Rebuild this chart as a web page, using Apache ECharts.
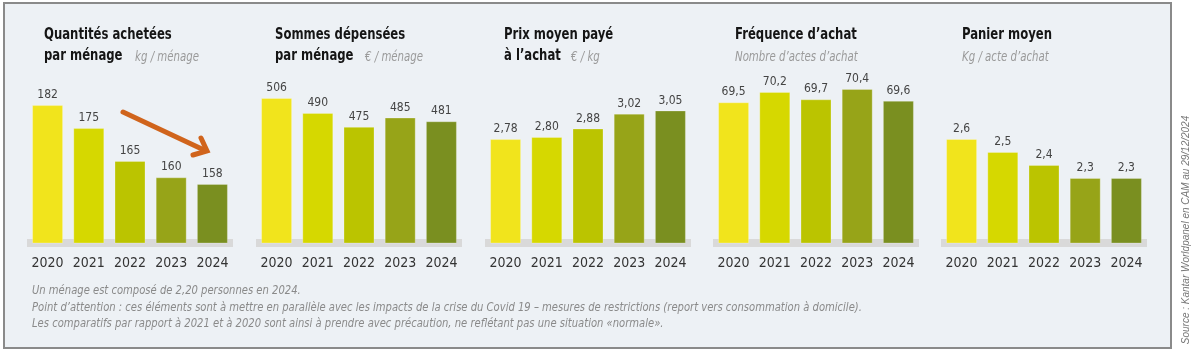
<!DOCTYPE html>
<html><head><meta charset="utf-8">
<script src="https://cdn.jsdelivr.net/npm/echarts@6/dist/echarts.min.js"></script>
<style>html,body{margin:0;padding:0;background:#fff}#c{width:1200px;height:358px}</style>
</head><body><div id="c"></div>
<script>
// ---- data ----
const categories = ['2020', '2021', '2022', '2023', '2024'];
const quantites = [182, 175, 165, 160, 158];
const sommes = [506, 490, 475, 485, 481];
const prix = [2.78, 2.80, 2.88, 3.02, 3.05];
const frequence = [69.5, 70.2, 69.7, 70.4, 69.6];
const panier = [2.6, 2.5, 2.4, 2.3, 2.3];
const titles1 = ['Quantités achetées', 'Sommes dépensées', 'Prix moyen payé', 'Fréquence d\u2019achat', 'Panier moyen'];
const titles2 = ['par ménage', 'par ménage', 'à l\u2019achat', '', ''];
const units = ['kg / ménage', '\u20ac / ménage', '\u20ac / kg', 'Nombre d\u2019actes d\u2019achat', 'Kg / acte d\u2019achat'];
const decimals = [0, 0, 2, 1, 1];
const footnotes = [
  'Un ménage est composé de 2,20 personnes en 2024.',
  'Point d\u2019attention : ces éléments sont à mettre en parallèle avec les impacts de la crise du Covid 19 \u2013 mesures de restrictions (report vers consommation à domicile).',
  'Les comparatifs par rapport à 2021 et à 2020 sont ainsi à prendre avec précaution, ne reflétant pas une situation \u00abnormale\u00bb.'
];
const sourceText = 'Source : Kantar Worldpanel en CAM au 29/12/2024';

// ---- styles / layout ----
const seriesData = [quantites, sommes, prix, frequence, panier];
const barColors = ['#f1e41c', '#d6d800', '#bbc400', '#97a418', '#7a8f20'];
const axisMin = [140, 350, 1.8, 60, 1.8];
const axisMax = [200, 562, 3.658, 73.3, 3.315];
const gridLeft = [27, 256, 485, 713, 941];
const titleLeft = [44, 275, 504, 735, 962];
const unitLeft = [135, 365, 571, 735, 962];
const FN = "'Liberation Sans Narrow','DejaVu Sans Condensed','Roboto Condensed',sans-serif";
const fmt = (v, d) => v.toFixed(d).replace('.', ',');

const chart = echarts.init(document.getElementById('c'), null, {renderer: 'canvas'});

const grids = [], xAxes = [], yAxes = [], series = [];
const graphics = [
  {type: 'rect', shape: {x: 4, y: 3, width: 1167, height: 345}, style: {fill: '#edf1f5', stroke: '#8a8a8a', lineWidth: 2}, z: -10, silent: true}
];
for (let i = 0; i < 5; i++) {
  grids.push({left: gridLeft[i], width: 206, top: 46, height: 197});
  xAxes.push({
    type: 'category', gridIndex: i, data: categories,
    axisLine: {lineStyle: {color: '#d9d9d9', width: 8, cap: 'butt'}},
    axisTick: {show: false},
    axisLabel: {color: '#333', fontFamily: FN, fontSize: 14, margin: 13, interval: 0}
  });
  yAxes.push({type: 'value', gridIndex: i, min: axisMin[i], max: axisMax[i], show: false, splitLine: {show: false}});
  series.push({
    type: 'bar', xAxisIndex: i, yAxisIndex: i, data: seriesData[i], barWidth: 31,
    itemStyle: {color: p => barColors[p.dataIndex], borderColor: 'rgba(255,255,255,0.25)', borderWidth: 1},
    label: {show: true, position: 'top', distance: 4, color: '#444', fontFamily: FN, fontSize: 12,
      formatter: p => fmt(p.value, decimals[i])},
    animation: false
  });
  graphics.push({type: 'text', x: titleLeft[i], y: 34.5, scaleX: 0.81,
    style: {text: titles1[i], fill: '#151515', fontFamily: FN, fontWeight: 'bold', fontSize: 16, align: 'left', verticalAlign: 'middle'}, z: 10});
  if (titles2[i]) {
    graphics.push({type: 'text', x: titleLeft[i], y: 56, scaleX: 0.81,
      style: {text: titles2[i], fill: '#151515', fontFamily: FN, fontWeight: 'bold', fontSize: 16, align: 'left', verticalAlign: 'middle'}, z: 10});
  }
  graphics.push({type: 'text', x: unitLeft[i], y: 57, scaleX: 0.84,
    style: {text: units[i], fill: '#9a9a9a', fontFamily: FN, fontStyle: 'italic', fontSize: 13.5, align: 'left', verticalAlign: 'middle'}, z: 10});
}

graphics.push(
  {type: 'polyline', shape: {points: [[123, 112], [204, 150]]}, style: {stroke: '#d0641c', lineWidth: 5, lineCap: 'round', fill: null}, z: 10},
  {type: 'polyline', shape: {points: [[201, 138], [207, 151], [193, 155]]}, style: {stroke: '#d0641c', lineWidth: 5, lineCap: 'round', lineJoin: 'miter', fill: null}, z: 10},
  {type: 'text', x: 1186, y: 230, rotation: Math.PI / 2,
    style: {text: sourceText, fill: '#777', font: 'italic 10px "Liberation Sans", sans-serif', align: 'center', verticalAlign: 'middle'}, z: 10}
);
footnotes.forEach((t, k) => {
  graphics.push({type: 'text', x: 32, y: 291 + k * 16.5, scaleX: 0.87,
    style: {text: t, fill: '#8a8a8a', fontFamily: FN, fontStyle: 'italic', fontSize: 12.8, align: 'left', verticalAlign: 'middle'}, z: 10});
});

chart.setOption({
  animation: false,
  backgroundColor: '#ffffff',
  grid: grids, xAxis: xAxes, yAxis: yAxes, series: series,
  graphic: graphics
});
</script></body></html>
